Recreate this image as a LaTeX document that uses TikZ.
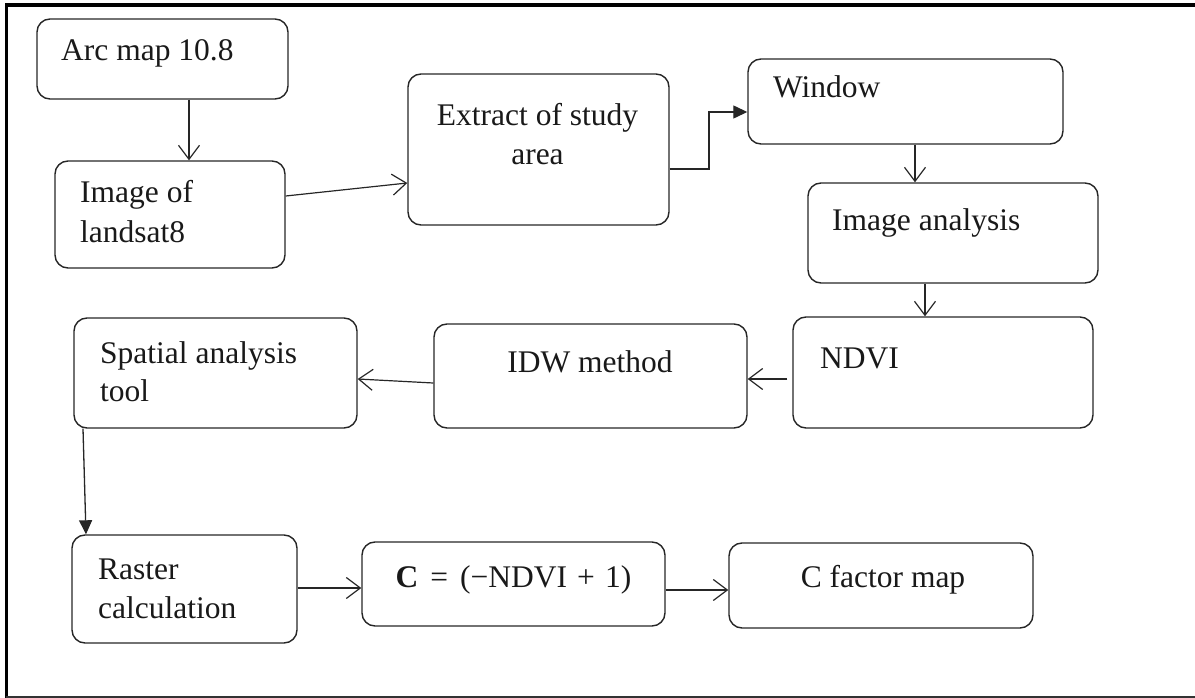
\documentclass[tikz,border=0pt]{standalone}
\usepackage{fontspec}
\setmainfont{Liberation Serif}
\usetikzlibrary{arrows.meta}

\tikzset{
  box/.style={draw=black!85, line width=1.4pt, rounded corners=13pt, inner sep=0pt},
  lbl/.style={inner sep=0pt, font=\fontsize{31.5}{38}\selectfont, text=black!90},
  lblw/.style={lbl, anchor=base west},
  lblc/.style={lbl, anchor=base},
  openarrow/.style={draw=black!85, line width=1.2pt, -{Straight Barb[length=14pt,width=21pt,line width=1.2pt]}},
  fillarrow/.style={draw=black!85, line width=1.3pt, -{Triangle[length=14pt,width=13pt]}},
}

\begin{document}
\begin{tikzpicture}[x=1pt, y=-1pt]
\useasboundingbox (0,0) rectangle (1195,698);

% outer frame (open on the right)
\draw[line width=3.5pt] (1195,5) -- (5,5);
\draw[line width=3pt] (6.5,3.5) -- (6.5,697.5);
\draw[line width=2pt, black!80] (5.5,696.5) -- (1195,696.5);

% process boxes
\node[box, minimum width=251pt, minimum height=80pt]  (arc)  at (162.5,59)  {};
\node[box, minimum width=230pt, minimum height=107pt] (img)  at (170,214.5) {};
\node[box, minimum width=261pt, minimum height=151pt] (ext)  at (538.5,149.5) {};
\node[box, minimum width=315pt, minimum height=85pt]  (win)  at (905.5,101.5) {};
\node[box, minimum width=290pt, minimum height=100pt] (ia)   at (953,233)   {};
\node[box, minimum width=300pt, minimum height=111pt] (ndvi) at (943,372.5) {};
\node[box, minimum width=313pt, minimum height=104pt] (idw)  at (590.5,376) {};
\node[box, minimum width=283pt, minimum height=110pt] (spa)  at (215.5,373) {};
\node[box, minimum width=225pt, minimum height=108pt] (ras)  at (184.5,589) {};
\node[box, minimum width=303pt, minimum height=84pt]  (cf)   at (513.5,584) {};
\node[box, minimum width=304pt, minimum height=85pt]  (cmap) at (881,585.5) {};

% box texts
\node[lblw] (arc-t)   at (61,61)   {Arc map 10.8};
\node[lblw] (img-t1)  at (80,203)  {Image of};
\node[lblw] (img-t2)  at (80,242)  {landsat8};
\node[lblc] (ext-t1)  at (537.5,126) {Extract of study};
\node[lblc] (ext-t2)  at (537.5,165) {area};
\node[lblw] (win-t)   at (773,98)  {Window};
\node[lblw] (ia-t)    at (832,230) {Image analysis};
\node[lblw] (ndvi-t)  at (820,368) {NDVI};
\node[lblc] (idw-t)   at (590,372) {IDW method};
\node[lblw] (spa-t1)  at (100,363) {Spatial analysis};
\node[lblw] (spa-t2)  at (100,401) {tool};
\node[lblw] (ras-t1)  at (98,579)  {Raster};
\node[lblw] (ras-t2)  at (98,618)  {calculation};
\node[lblc] (cf-t)    at (513.5,587) {\textbf{C}\hspace{0.38em}=\hspace{0.38em}(−NDVI\hspace{0.32em}+\hspace{0.32em}1)};
\node[lblc] (cmap-t)  at (883,587) {C factor map};

% connectors
\draw[openarrow] (189,0 |- arc.south) -- (189,0 |- img.north);
\draw[openarrow] (img.east |- 0,196) -- (ext.west |- 0,183);
\draw[fillarrow] (ext.east |- 0,169) -- (709,169) -- (709,112) -- (win.west |- 0,112);
\draw[openarrow] (915,0 |- win.south) -- (915,0 |- ia.north);
\draw[openarrow] (925,0 |- ia.south) -- (925,0 |- ndvi.north);
\draw[openarrow, shorten <=5pt] (ndvi.west |- 0,379) -- (idw.east |- 0,379);
\draw[openarrow] (idw.west |- 0,383) -- (spa.east |- 0,379);
\draw[fillarrow] (83,0 |- spa.south) -- (86,0 |- ras.north);
\draw[openarrow] (ras.east |- 0,588) -- (cf.west |- 0,588);
\draw[openarrow] (cf.east |- 0,590) -- (cmap.west |- 0,590);
\end{tikzpicture}
\end{document}
